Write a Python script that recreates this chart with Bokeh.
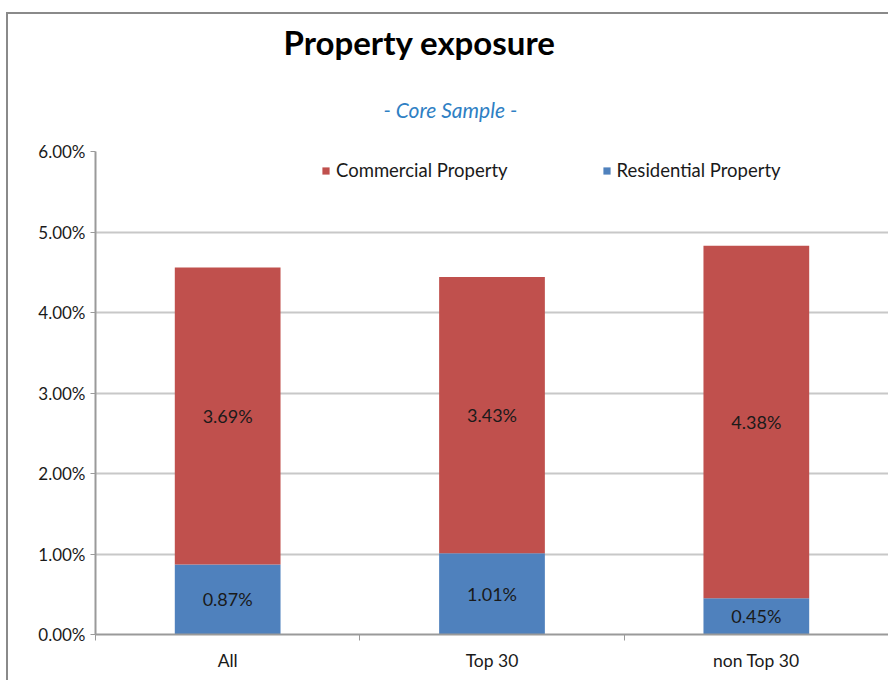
from bokeh.plotting import figure
from bokeh.models import (ColumnDataSource, FixedTicker, PrintfTickFormatter, Title,
                          Legend, LegendItem)
from bokeh.core.properties import value
from bokeh.embed import file_html
from bokeh.resources import INLINE

categories = ["All", "Top 30", "non Top 30"]
residential = [0.87, 1.01, 0.45]
commercial = [3.69, 3.43, 4.38]
y_ticks = [0, 1, 2, 3, 4, 5, 6]

FONT = "Lato"
RED = "#C0504D"
BLUE = "#4F81BD"

xc = [i + 0.5 for i in range(len(categories))]
tops_com = [r + c for r, c in zip(residential, commercial)]

src = ColumnDataSource(dict(
    x=xc, top_res=residential, top_com=tops_com,
    res_lbl=[f"{v:.2f}%" for v in residential],
    com_lbl=[f"{v:.2f}%" for v in commercial],
    res_mid=[v / 2 for v in residential],
    com_mid=[r + c / 2 for r, c in zip(residential, commercial)],
))

W, H = 882, 668
p = figure(width=W, height=H, x_range=(0, len(categories)), y_range=(0, 6),
           output_backend="svg", toolbar_location=None, tools="",
           min_border_left=87, min_border_right=2, min_border_top=137, min_border_bottom=48)
p.outline_line_color = None
p.background_fill_color = "white"
p.border_fill_color = "white"
p.styles = {"border-left": "2px solid #8a8a8a", "border-top": "2px solid #8a8a8a",
            "margin-left": "6px", "margin-top": "12px"}

r_res = p.vbar(x="x", bottom=0, top="top_res", width=0.4, source=src,
               fill_color=BLUE, line_color=None)
r_com = p.vbar(x="x", bottom="top_res", top="top_com", width=0.4, source=src,
               fill_color=RED, line_color=None)

p.text(x="x", y="res_mid", text="res_lbl", source=src, text_align="center",
       text_baseline="middle", text_font=value(FONT), text_font_size="18px",
       text_color="#1a1a1a")
p.text(x="x", y="com_mid", text="com_lbl", source=src, text_align="center",
       text_baseline="middle", text_font=value(FONT), text_font_size="18px",
       text_color="#1a1a1a")

# axes
p.xaxis.ticker = FixedTicker(ticks=xc, minor_ticks=list(range(len(categories) + 1)))
p.xaxis.major_label_overrides = {v: c for v, c in zip(xc, categories)}
p.xaxis.major_tick_out = 0
p.xaxis.major_tick_in = 0
p.xaxis.minor_tick_out = 6
p.xaxis.minor_tick_in = 0
p.xaxis.minor_tick_line_color = "#9a9a9a"
p.xaxis.axis_line_color = "#9a9a9a"
p.xaxis.axis_line_width = 2
p.xaxis.major_label_text_font = FONT
p.xaxis.major_label_text_font_size = "17.5px"
p.xaxis.major_label_text_color = "#1a1a1a"
p.xaxis.major_label_standoff = 9

p.yaxis.ticker = FixedTicker(ticks=y_ticks)
p.yaxis.formatter = PrintfTickFormatter(format="%.2f%%")
p.yaxis.minor_tick_line_color = None
p.yaxis.major_tick_out = 5
p.yaxis.major_tick_in = 0
p.yaxis.major_tick_line_color = "#9a9a9a"
p.yaxis.axis_line_color = "#9a9a9a"
p.yaxis.axis_line_width = 2
p.yaxis.major_label_text_font = FONT
p.yaxis.major_label_text_font_size = "17px"
p.yaxis.major_label_text_color = "#1a1a1a"
p.yaxis.major_label_standoff = 5

p.xgrid.grid_line_color = None
p.ygrid.ticker = FixedTicker(ticks=y_ticks)
p.ygrid.grid_line_color = "#c8c8c8"
p.ygrid.grid_line_width = 2

legend = Legend(items=[LegendItem(label="Commercial Property", renderers=[r_com]),
                       LegendItem(label="Residential Property", renderers=[r_res])],
                orientation="horizontal", location=(226, 453),
                border_line_color=None, background_fill_alpha=0,
                glyph_width=9, glyph_height=9, label_standoff=6, spacing=94,
                label_text_font=FONT, label_text_font_size="18.5px",
                label_text_color="#1a1a1a", padding=0, margin=0)
p.add_layout(legend)

# titles
p.title.text = "Property exposure"
p.title.align = "left"
p.title.offset = 188
p.title.text_font = FONT
p.title.text_font_size = "33px"
p.title.text_font_style = "bold"
p.title.text_color = "black"
p.title.standoff = 6

sub = Title(text="- Core Sample -", align="left", offset=288, text_font=FONT,
            text_font_size="21px", text_font_style="italic", text_color="#2E80C4",
            standoff=60)
p.add_layout(sub, "above")

open("out.html", "w").write(file_html(p, INLINE))
